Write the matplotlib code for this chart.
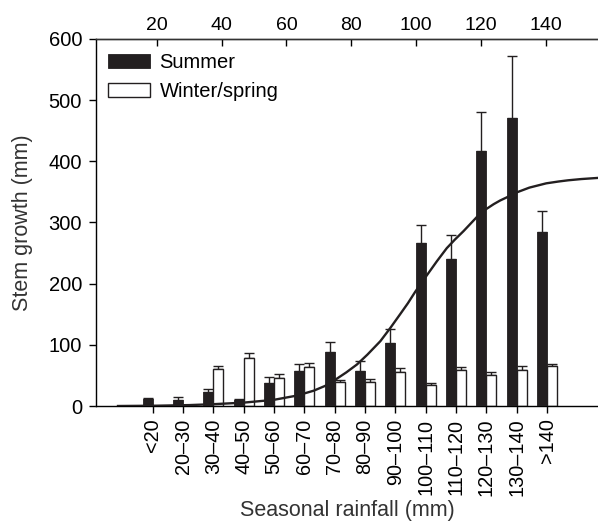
import matplotlib.pyplot as plt
import numpy as np

plt.rcParams["font.family"] = ["Liberation Sans", "DejaVu Sans"]

# rainfall classes (bottom axis)
classes = ["<20", "20\u201330", "30\u201340", "40\u201350", "50\u201360", "60\u201370", "70\u201380",
           "80\u201390", "90\u2013100", "100\u2013110", "110\u2013120", "120\u2013130", "130\u2013140", ">140"]

# mean stem growth (mm) and upper error
summer = [11, 10, 23, 10, 38, 58, 89, 57, 103, 266, 240, 417, 471, 284]
summer_err = [2, 4, 5, 1, 10, 10, 15, 16, 23, 30, 40, 64, 101, 35]
winter = [np.nan, np.nan, 60, 78, 46, 64, 40, 40, 56, 34, 59, 50, 59, 65]
winter_err = [0, 0, 5, 8, 6, 6, 3, 4, 6, 3, 4, 5, 6, 3]

# fitted curve (top axis: seasonal rainfall, mm)
curve_rain = [8, 20, 30, 37.5, 46.7, 56, 63.2, 68.4, 72, 75.1, 78.5, 81.8, 85, 89, 92, 95.1,
              97.5, 99.8, 103.4, 106.5, 109.5, 112, 114.7, 118.8, 121.7, 124, 126, 128, 131,
              135, 140.2, 144, 147, 151, 156.5]
curve_growth = [0, 0.5, 1.5, 3, 5.5, 10, 17, 25, 33, 43, 55, 68, 84, 106, 127, 150,
                168, 187, 214, 237, 258, 272, 286, 309, 322, 330, 336, 341, 349,
                357, 364, 367, 369, 371, 373]

dark = "#231f20"

fig = plt.figure(figsize=(5.98, 5.29), dpi=100)
ax = fig.add_axes([0.1605, 0.2325, 0.8395, 0.6938])

x = np.arange(len(classes))
w = 0.33
ax.bar(x - w / 2, summer, w, color=dark, edgecolor=dark, linewidth=0.6, label="Summer", zorder=2)
ax.bar(x + w / 2, winter, w, color="white", edgecolor=dark, linewidth=1.0, label="Winter/spring", zorder=2)
ax.errorbar(x - w / 2, summer, yerr=[np.zeros(len(x)), summer_err], fmt="none",
            ecolor=dark, elinewidth=1.0, capsize=3.8, capthick=1.0, zorder=1)
ax.errorbar(x + w / 2, winter, yerr=[np.zeros(len(x)), winter_err], fmt="none",
            ecolor=dark, elinewidth=1.0, capsize=3.6, capthick=1.0, zorder=1)

ax.set_xlim(-1.87, 14.68)
ax.set_ylim(0, 600)
ax.set_xticks(x)
ax.set_xticklabels(classes, rotation=90, fontsize=14.3)
ax.set_yticks(range(0, 601, 100))
ax.tick_params(axis="y", labelsize=14.5, direction="out", length=5, width=1, pad=5)
ax.tick_params(axis="x", direction="out", length=5, width=1, pad=4)
ax.spines["right"].set_visible(False)
for s in ["left", "bottom", "top"]:
    ax.spines[s].set_linewidth(1.0)
    ax.spines[s].set_color("#333333")
ax.set_xlabel("Seasonal rainfall (mm)", fontsize=15.5, color="#333333", labelpad=3)
ax.set_ylabel("Stem growth (mm)", fontsize=15.5, color="#333333", labelpad=11)

ax2 = ax.twiny()
ax2.plot(curve_rain, curve_growth, color=dark, lw=1.7, zorder=3)
ax2.set_xlim(1.2, 156.2)
ax2.set_xticks(range(20, 141, 20))
ax2.tick_params(axis="x", direction="in", length=5, width=1, labelsize=14)
ax2.spines["right"].set_visible(False)
ax2.spines["top"].set_linewidth(1.0)
ax2.spines["top"].set_color("#333333")

ax.legend(loc="upper left", bbox_to_anchor=(0.0, 0.995), frameon=False, fontsize=14.5,
          handlelength=2.1, handleheight=0.75, handletextpad=0.45, labelspacing=0.5,
          borderaxespad=0.2)

fig.savefig("out.png", dpi=100)
